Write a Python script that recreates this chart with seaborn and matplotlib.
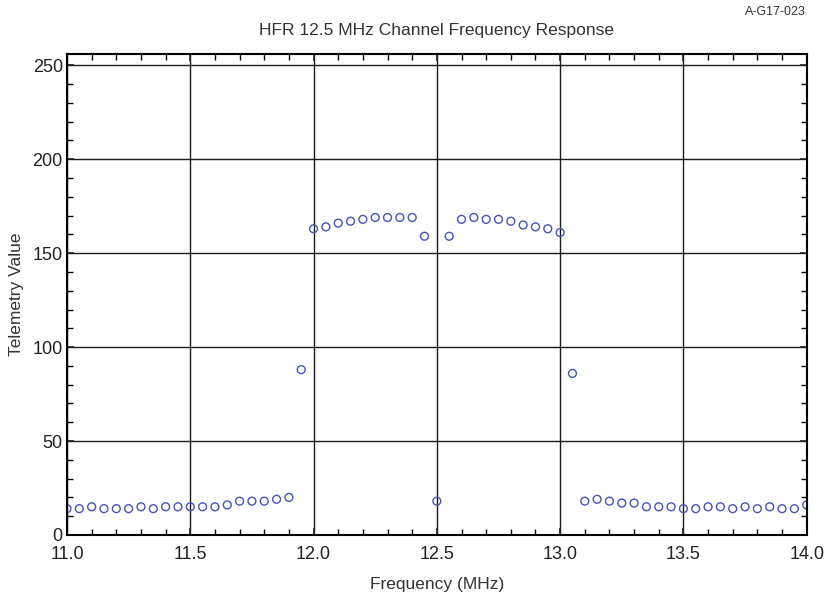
import numpy as np
import pandas as pd
import matplotlib
matplotlib.use("Agg")
import matplotlib.pyplot as plt
import seaborn as sns
from matplotlib.ticker import MultipleLocator

# data
freq_mhz = [11.00, 11.05, 11.10, 11.15, 11.20, 11.25, 11.30, 11.35, 11.40, 11.45,
            11.50, 11.55, 11.60, 11.65, 11.70, 11.75, 11.80, 11.85, 11.90, 11.95,
            12.00, 12.05, 12.10, 12.15, 12.20, 12.25, 12.30, 12.35, 12.40, 12.45,
            12.50, 12.55, 12.60, 12.65, 12.70, 12.75, 12.80, 12.85, 12.90, 12.95,
            13.00, 13.05, 13.10, 13.15, 13.20, 13.25, 13.30, 13.35, 13.40, 13.45,
            13.50, 13.55, 13.60, 13.65, 13.70, 13.75, 13.80, 13.85, 13.90, 13.95,
            14.00]
telemetry = [14, 14, 15, 14, 14, 14, 15, 14, 15, 15,
             15, 15, 15, 16, 18, 18, 18, 19, 20, 88,
             163, 164, 166, 167, 168, 169, 169, 169, 169, 159,
             18, 159, 168, 169, 168, 168, 167, 165, 164, 163,
             161, 86, 18, 19, 18, 17, 17, 15, 15, 15,
             14, 14, 15, 15, 14, 15, 14, 15, 14, 14,
             16]

df = pd.DataFrame({"freq": freq_mhz, "value": telemetry})

sns.set_style("white")
plt.rcParams['font.family'] = ['Liberation Sans', 'DejaVu Sans']

fig = plt.figure(figsize=(8.24, 5.97), dpi=100)
ax = fig.add_axes([0.0813, 0.1039, 0.8977, 0.8056])

sns.scatterplot(data=df, x="freq", y="value", ax=ax, marker="o",
                facecolors="none", edgecolor="#4555b5", linewidth=1.0, s=32)

ax.set_xlim(11.0, 14.0)
ax.set_ylim(0, 256)
ax.xaxis.set_major_locator(MultipleLocator(0.5))
ax.xaxis.set_minor_locator(MultipleLocator(0.1))
ax.yaxis.set_major_locator(MultipleLocator(50))
ax.yaxis.set_minor_locator(MultipleLocator(10))
ax.xaxis.set_major_formatter(matplotlib.ticker.FormatStrFormatter("%.1f"))

ax.grid(True, which="major", color="#1a1a1a", linewidth=1.0)
ax.set_axisbelow(True)
for sp in ax.spines.values():
    sp.set_color("black")
    sp.set_linewidth(1.5)

ax.tick_params(which="both", direction="in", top=True, right=True,
               bottom=True, left=True, color="black")
ax.tick_params(which="major", length=5, width=1.2, labelsize=13, colors="#222222")
ax.tick_params(which="minor", length=4, width=1.0)
ax.tick_params(axis="x", which="major", pad=8)
ax.tick_params(axis="y", which="major", pad=3)

ax.set_xlabel("Frequency (MHz)", fontsize=12.5, color="#333333", labelpad=10)
ax.set_ylabel("Telemetry Value", fontsize=12.5, color="#333333", labelpad=6)
ax.set_title("HFR 12.5 MHz Channel Frequency Response", fontsize=12.5,
             color="#333333", pad=14)
fig.text(0.978, 0.99, "A-G17-023", ha="right", va="top", fontsize=9, color="#333333")

fig.savefig("out.png", dpi=100)
